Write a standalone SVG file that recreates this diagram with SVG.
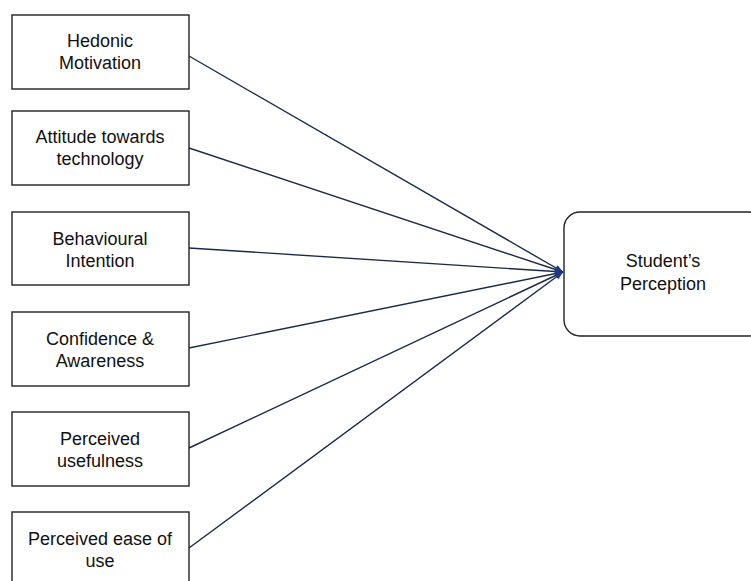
<svg xmlns="http://www.w3.org/2000/svg" width="751" height="581" viewBox="0 0 751 581">
<style>
.box{fill:#fff;stroke:#222;stroke-width:1.4}
.t{font-family:"Liberation Sans",Arial,sans-serif;font-size:18px;fill:#111;text-anchor:middle}
.c{stroke:#1c2a4a;stroke-width:1.4;fill:none}
</style>
<defs>
<marker id="ah" viewBox="0 0 10 10" refX="10" refY="5" markerWidth="10" markerHeight="8" orient="auto" markerUnits="userSpaceOnUse">
<path d="M0,1 L10,5 L0,9 z" fill="#1c3a8a"/>
</marker>
</defs>
<rect width="751" height="581" fill="#fff"/>
<g id="connectors">
<line class="c" x1="189" y1="56" x2="563" y2="272" marker-end="url(#ah)"/>
<line class="c" x1="189" y1="148" x2="563" y2="272" marker-end="url(#ah)"/>
<line class="c" x1="189" y1="248" x2="563" y2="272" marker-end="url(#ah)"/>
<line class="c" x1="189" y1="348" x2="563" y2="272" marker-end="url(#ah)"/>
<line class="c" x1="189" y1="448" x2="563" y2="272" marker-end="url(#ah)"/>
<line class="c" x1="189" y1="548" x2="563" y2="272" marker-end="url(#ah)"/>
</g>
<g id="hedonic">
<rect class="box" x="12" y="15" width="177" height="74"/>
<text class="t" x="100" y="47">Hedonic</text>
<text class="t" x="100" y="69">Motivation</text>
</g>
<g id="attitude">
<rect class="box" x="12" y="111" width="177" height="74"/>
<text class="t" x="100" y="143">Attitude towards</text>
<text class="t" x="100" y="165">technology</text>
</g>
<g id="behavioural">
<rect class="box" x="12" y="212" width="177" height="73"/>
<text class="t" x="100" y="245">Behavioural</text>
<text class="t" x="100" y="267">Intention</text>
</g>
<g id="confidence">
<rect class="box" x="12" y="312" width="177" height="74"/>
<text class="t" x="100" y="345">Confidence &amp;</text>
<text class="t" x="100" y="367">Awareness</text>
</g>
<g id="usefulness">
<rect class="box" x="12" y="412" width="177" height="74"/>
<text class="t" x="100" y="445">Perceived</text>
<text class="t" x="100" y="467">usefulness</text>
</g>
<g id="ease">
<rect class="box" x="12" y="512" width="177" height="76"/>
<text class="t" x="100" y="545">Perceived ease of</text>
<text class="t" x="100" y="567">use</text>
</g>
<g id="perception">
<rect class="box" x="564" y="212" width="200" height="124" rx="16" ry="16"/>
<text class="t" x="663" y="267">Student’s</text>
<text class="t" x="663" y="290">Perception</text>
</g>
</svg>
